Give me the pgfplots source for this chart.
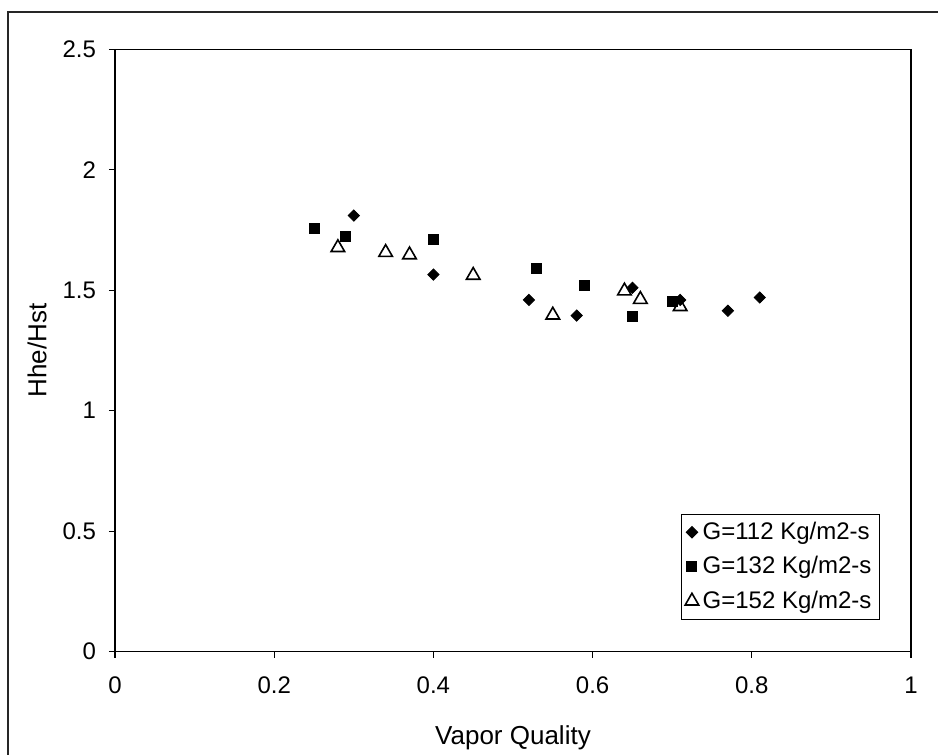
\documentclass[border=0pt]{standalone}
\usepackage{fontspec}
\setmainfont{Liberation Sans}
\usepackage{pgfplots}
\pgfplotsset{compat=1.18}
\begin{document}
\begin{tikzpicture}[font=\fontsize{13}{15.6}\selectfont]
\begin{axis}[
    scale only axis,
    width=398pt, height=301.2pt,
    xmin=0, xmax=1, ymin=0, ymax=2.5,
    xtick={0,0.2,0.4,0.6,0.8,1},
    ytick={0,0.5,1,1.5,2,2.5},
    tick align=outside,
    tick pos=left,
    major tick length=3pt,
    axis line style={line width=0.6pt},
    every tick/.style={black, line width=0.6pt},
    /pgf/number format/assume math mode=true,
    /pgf/number format/fixed,
    tick label style={font=\fontsize{12}{14}\selectfont},
    xticklabel style={yshift=-6pt},
    yticklabel style={xshift=-3pt},
    xlabel={Vapor Quality},
    ylabel={Hhe/Hst},
    xlabel style={at={(0.5,0)}, anchor=base, yshift=-46.5pt},
    ylabel style={at={(0,0.5)}, anchor=center, yshift=39pt},
    legend style={at={(0.961,0.053)}, anchor=south east, draw=black,
        line width=0.5pt, inner sep=2pt, row sep=3pt,
        font=\fontsize{12}{14}\selectfont},
    legend cell align=left,
    clip=false,
]
% G=112 Kg/m2-s
\addplot[only marks, mark=square*, mark size=2pt, mark options={rotate=45, fill=black}, black]
coordinates {
    (0.30,1.81)(0.40,1.565)(0.52,1.46)(0.58,1.395)(0.65,1.51)(0.71,1.46)(0.77,1.415)(0.81,1.47)};
\addlegendentry{G=112 Kg/m2-s}
% G=132 Kg/m2-s
\addplot[only marks, mark=square*, mark size=2.5pt, mark options={fill=black}, black]
coordinates {
    (0.25,1.755)(0.29,1.725)(0.40,1.71)(0.53,1.59)(0.59,1.52)(0.65,1.39)(0.70,1.455)};
\addlegendentry{G=132 Kg/m2-s}
% G=152 Kg/m2-s
\addplot[only marks, mark=triangle, mark size=3.9pt, mark options={line width=0.8pt, fill=white}, black]
coordinates {
    (0.28,1.677)(0.34,1.657)(0.37,1.647)(0.45,1.562)(0.55,1.397)(0.64,1.497)(0.66,1.462)(0.71,1.432)};
\addlegendentry{G=152 Kg/m2-s}
\end{axis}
\pgfresetboundingbox
\path[use as bounding box] (-57.5pt,-51.65pt) rectangle (411.5pt,325.85pt);
\draw[line width=0.8pt, black!85] (-53.5pt,-60pt) -- (-53.5pt,319.85pt) -- (420pt,319.85pt);
\end{tikzpicture}
\end{document}
